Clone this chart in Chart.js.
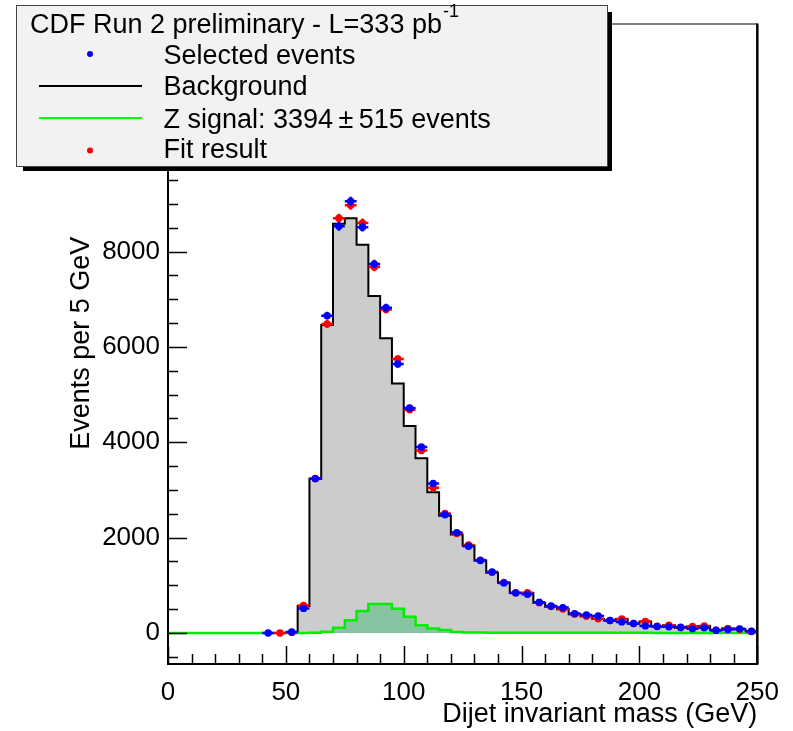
<!DOCTYPE html>
<html><head><meta charset="utf-8">
<script src="https://cdn.jsdelivr.net/npm/chart.js@4.4.1/dist/chart.umd.min.js"></script>
<style>html,body{margin:0;padding:0;background:#fff;}canvas{display:block;}</style>
</head><body>
<canvas id="c" width="793" height="731"></canvas>
<script>
// ---- data (5 GeV bins, lower edges) ----
const binLow = [0,5,10,15,20,25,30,35,40,45,50,55,60,65,70,75,80,85,90,95,100,105,110,115,120,125,130,135,140,145,150,155,160,165,170,175,180,185,190,195,200,205,210,215,220,225,230,235,240,245];
const binUpperLast = 250;
const bkgValues = [0,0,0,0,0,0,0,0,0,0,10,565,3236,6460,8580,8700,8142,7065,6180,5230,4340,3665,2950,2460,2065,1835,1520,1265,1055,840,840,630,552,497,392,350,295,260,292,195,238,138,160,105,133,146,56,91,78,30];
const sigValues = [0,0,0,0,0,0,0,0,0,0,0,0,5,25,110,265,460,610,605,508,340,160,95,60,20,12,8,6,5,5,4,4,3,3,3,3,2,2,2,2,2,1,1,1,1,1,1,1,1,1];
const pointMass = [42.5,47.5,52.5,57.5,62.5,67.5,72.5,77.5,82.5,87.5,92.5,97.5,102.5,107.5,112.5,117.5,122.5,127.5,132.5,137.5,142.5,147.5,152.5,157.5,162.5,167.5,172.5,177.5,182.5,187.5,192.5,197.5,202.5,207.5,212.5,217.5,222.5,227.5,232.5,237.5,242.5,247.5];
const dataValues = [0,null,20,515,3236,6655,8530,9055,8510,7740,6820,5640,4720,3900,3135,2480,2105,1820,1520,1280,1050,840,810,643,566,532,406,378,357,260,232,198,148,135,128,121,86,107,58,72,86,37];
const fitValues = [null,0,12,575,3241,6480,8700,8970,8600,7675,6785,5745,4680,3825,3045,2505,2085,1847,1528,1271,1061,845,845,635,556,500,395,353,298,262,294,197,240,140,162,107,135,148,58,93,80,32];
const xTickValues = [0,50,100,150,200,250];
const xTickLabels = ['0','50','100','150','200','250'];
const yTickValues = [0,2000,4000,6000,8000];
const yTickLabels = ['0','2000','4000','6000','8000'];
const xTitle = 'Dijet invariant mass (GeV)';
const yTitle = 'Events per 5 GeV';
const legendTitle = 'CDF Run 2 preliminary - L=333 pb';
const legendTitleSup = '-1';
const legendLabels = ['Selected events','Background','Z signal: 3394\u2009\u00b1\u2009515 events','Fit result'];

const FONT = '"Liberation Sans", Arial, Helvetica, sans-serif';
Chart.defaults.font.family = FONT;
Chart.defaults.color = '#000';

function histPoints(vals){
  const pts = binLow.map((x,i)=>({x:x, y:vals[i]}));
  pts.push({x:binUpperLast, y:vals[vals.length-1]});
  return pts;
}
function pointSeries(vals){ return pointMass.map((x,i)=>({x:x, y:vals[i]})); }

const errorBars = {
  id:'errorBars',
  beforeDatasetDraw(chart, args){
    const ds = chart.data.datasets[args.index];
    if(!ds.errorBars) return;
    const xs = chart.scales.x, ys = chart.scales.y, ctx = chart.ctx, a = chart.chartArea;
    ctx.save();
    ctx.beginPath(); ctx.rect(a.left, a.top, a.right-a.left, a.bottom-a.top); ctx.clip();
    ctx.strokeStyle = ds.backgroundColor; ctx.lineWidth = 2.5;
    ds.data.forEach(p=>{
      if(p.y===null) return;
      const e = Math.sqrt(Math.max(p.y,0));
      const xc = xs.getPixelForValue(p.x), yc = ys.getPixelForValue(p.y);
      ctx.beginPath();
      ctx.moveTo(xs.getPixelForValue(p.x-2.5), yc); ctx.lineTo(xs.getPixelForValue(p.x+2.5), yc);
      ctx.moveTo(xc, ys.getPixelForValue(p.y-e)); ctx.lineTo(xc, ys.getPixelForValue(p.y+e));
      ctx.stroke();
    });
    ctx.restore();
  }
};

const frameAndTicks = {
  id:'frameAndTicks',
  afterDatasetsDraw(chart){
    const ctx = chart.ctx, a = chart.chartArea, xs = chart.scales.x, ys = chart.scales.y;
    ctx.save();
    ctx.strokeStyle = '#000';
    ctx.lineWidth = 1.5;
    ctx.beginPath();
    for(let v = -500; v <= ys.max; v += 500){
      if(v < ys.min) continue;
      const y = Math.round(ys.getPixelForValue(v)) + 0.5;
      const len = (v % 2000 === 0) ? 19 : 10;
      ctx.moveTo(a.left, y); ctx.lineTo(a.left + len, y);
    }
    for(let v = 0; v <= xs.max; v += 10){
      const x = Math.round(xs.getPixelForValue(v)) + 0.5;
      const len = (v % 50 === 0) ? 17 : 9;
      ctx.moveTo(x, a.bottom); ctx.lineTo(x, a.bottom - len);
    }
    ctx.stroke();
    ctx.strokeStyle = '#555'; ctx.lineWidth = 1.5;
    ctx.beginPath(); ctx.moveTo(a.left, a.top+0.5); ctx.lineTo(a.right, a.top+0.5); ctx.stroke();
    ctx.strokeStyle = '#000'; ctx.lineWidth = 2.5;
    ctx.beginPath(); ctx.moveTo(a.right, a.top); ctx.lineTo(a.right, a.bottom+1); ctx.stroke();
    ctx.lineWidth = 2;
    ctx.beginPath(); ctx.moveTo(a.left, a.top); ctx.lineTo(a.left, a.bottom+1); ctx.lineTo(a.right+1, a.bottom+1); ctx.stroke();
    ctx.restore();
  },
  afterDraw(chart){
    const ctx = chart.ctx;
    ctx.save();
    ctx.fillStyle = '#000';
    ctx.fillRect(23, 12, 589, 159);
    ctx.fillStyle = '#f2f2f2';
    ctx.fillRect(16.5, 5.5, 591, 161);
    ctx.strokeStyle = '#444'; ctx.lineWidth = 1;
    ctx.strokeRect(16.5, 5.5, 591, 161);
    ctx.fillStyle = '#000';
    ctx.textBaseline = 'alphabetic'; ctx.textAlign = 'left';
    ctx.font = '27px ' + FONT;
    ctx.fillText(legendTitle, 30, 32.5);
    const w = ctx.measureText(legendTitle).width;
    ctx.font = '18px ' + FONT;
    ctx.fillText(legendTitleSup, 30 + w + 1, 17);
    ctx.font = '27px ' + FONT;
    const base = [63.5, 95, 127.5, 157.5];
    legendLabels.forEach((t,i)=>ctx.fillText(t, 163.5, base[i]));
    ctx.fillStyle = '#0000ff';
    ctx.beginPath(); ctx.arc(90, 54, 3, 0, Math.PI*2); ctx.fill();
    ctx.fillStyle = '#ff0000';
    ctx.beginPath(); ctx.arc(90, 150.5, 3, 0, Math.PI*2); ctx.fill();
    ctx.lineWidth = 2;
    ctx.strokeStyle = '#000';
    ctx.beginPath(); ctx.moveTo(39, 86); ctx.lineTo(142, 86); ctx.stroke();
    ctx.strokeStyle = '#00ff00';
    ctx.beginPath(); ctx.moveTo(39, 118); ctx.lineTo(142, 118); ctx.stroke();
    ctx.restore();
  }
};

new Chart(document.getElementById('c'), {
  type:'line',
  data:{
    datasets:[
      {label:legendLabels[0], type:'scatter', data:pointSeries(dataValues), showLine:false,
       backgroundColor:'#0000ff', borderColor:'#0000ff', pointRadius:3.7, pointBorderWidth:0, errorBars:true},
      {label:legendLabels[3], type:'scatter', data:pointSeries(fitValues), showLine:false,
       backgroundColor:'#ff0000', borderColor:'#ff0000', pointRadius:3.7, pointBorderWidth:0, errorBars:true},
      {label:'Z signal', data:histPoints(sigValues), stepped:true, fill:'origin',
       borderColor:'#00ee00', backgroundColor:'#88c4a2', borderWidth:2.5, pointRadius:0, tension:0},
      {label:legendLabels[1], data:histPoints(bkgValues), stepped:true, fill:'origin',
       borderColor:'#000', backgroundColor:'#cccccc', borderWidth:2, pointRadius:0, tension:0}
    ]
  },
  options:{
    responsive:false, animation:false, devicePixelRatio:1, events:[],
    layout:{padding:{top:20, right:34, left:0, bottom:0}},
    plugins:{legend:{display:false}, tooltip:{enabled:false}, title:{display:false}},
    scales:{
      x:{type:'linear', min:0, max:250,
         grid:{display:false, drawTicks:false}, border:{display:false},
         afterBuildTicks(s){ s.ticks = xTickValues.map(v=>({value:v})); },
         ticks:{padding:14, font:{size:26}, maxRotation:0, autoSkip:false,
                callback:(v)=>{ const i = xTickValues.indexOf(v); return i>=0 ? xTickLabels[i] : ''; }},
         title:{display:true, text:xTitle, align:'end', font:{size:27}, padding:{top:0, bottom:0}},
         afterFit(s){ s.height = 68; }},
      y:{type:'linear', min:-630, max:12780,
         grid:{display:false, drawTicks:false}, border:{display:false},
         afterBuildTicks(s){ s.ticks = yTickValues.map(v=>({value:v})); },
         ticks:{padding:8, font:{size:26}, autoSkip:false,
                callback:(v)=>{ const i = yTickValues.indexOf(v); return i>=0 ? yTickLabels[i] : ''; }},
         title:{display:true, text:yTitle, align:'center', font:{size:27}, padding:{top:65.5, bottom:0}},
         afterFit(s){ s.width = 168; }}
    }
  },
  plugins:[errorBars, frameAndTicks]
});
</script>
</body></html>
